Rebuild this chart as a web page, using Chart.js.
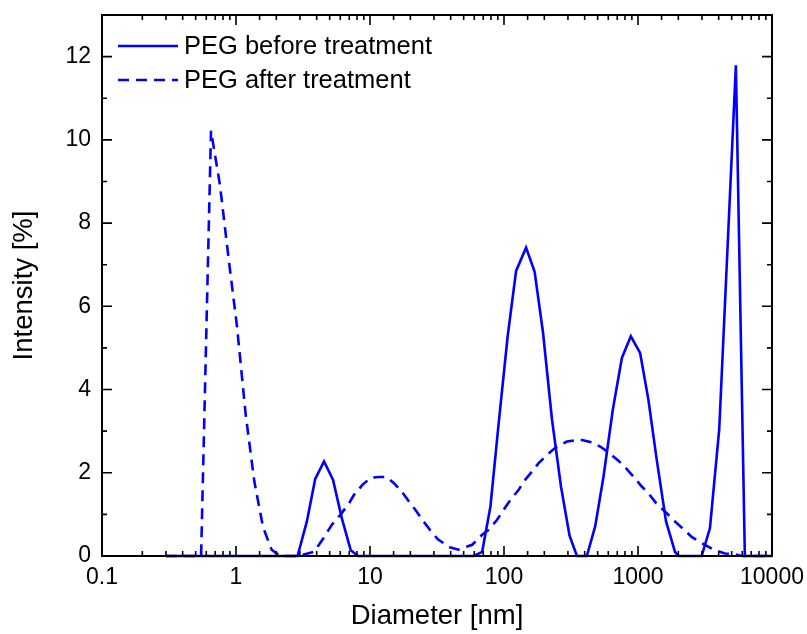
<!DOCTYPE html>
<html>
<head>
<meta charset="utf-8">
<script src="https://cdn.jsdelivr.net/npm/chart.js@4.4.0/dist/chart.umd.min.js"></script>
<style>
  html, body { margin: 0; padding: 0; background: #fff; }
  #wrap { width: 807px; height: 634px; position: relative; }
</style>
</head>
<body>
<div id="wrap"><canvas id="dlsChart"></canvas></div>
<script>
// size distributions: diameter [nm], intensity [%]
const beforeDiameter = [0.3, 2.88, 3.38, 3.90, 4.54, 5.30, 6.16, 7.18, 8.14, 59.5, 68.7, 79.2, 91.3, 106.5,
  123.1, 146.1, 169.3, 195.5, 228.1, 266.2, 308.5, 350, 415, 479, 553, 649, 758, 884, 1037, 1195, 1380,
  1619, 1889, 2000, 2985, 3443, 4037, 5376, 6273, 10000];
const beforeIntensity = [0, 0, 0.83, 1.85, 2.27, 1.83, 0.91, 0.14, 0, 0, 0.1, 1.19, 3.2, 5.28,
  6.85, 7.41, 6.83, 5.37, 3.28, 1.67, 0.49, 0, 0, 0.71, 1.91, 3.52, 4.76, 5.28, 4.88, 3.76, 2.31,
  0.83, 0.1, 0, 0, 0.67, 3.04, 11.79, 0, 0];

const afterDiameter = [0.3, 0.549, 0.651, 0.760, 0.876, 1.017, 1.181, 1.369, 1.589, 1.845, 2.137, 2.94,
  3.32, 3.81, 4.44, 5.19, 6.05, 6.98, 7.60, 8.78, 10.12, 11.61, 13.32, 15.09, 17.43, 19.52, 22.27, 24.56,
  27.98, 32.09, 39.41, 45.77, 52.5, 57.9, 68.7, 76.9, 88.8, 99.5, 111.6, 128.7, 140.2, 161.9, 181.3,
  209.4, 241.3, 295.1, 366.2, 452.9, 522.2, 602.0, 714.6, 825.1, 924.4, 1067, 1195, 1380, 1639, 1889,
  2178, 2515, 2985, 3642, 4452, 5133, 5957, 10000];
const afterIntensity = [0, 0, 10.22, 8.9, 7.21, 5.52, 3.4, 1.8, 0.7, 0.15, 0, 0,
  0.05, 0.1, 0.4, 0.75, 1.0, 1.27, 1.47, 1.71, 1.88, 1.9, 1.9, 1.75, 1.53, 1.31, 1.07, 0.87,
  0.63, 0.4, 0.21, 0.15, 0.22, 0.27, 0.51, 0.63, 0.87, 1.11, 1.35, 1.59, 1.79, 2.03, 2.23,
  2.43, 2.6, 2.75, 2.8, 2.73, 2.63, 2.49, 2.29, 2.09, 1.91, 1.67, 1.51, 1.25, 1.03, 0.83,
  0.65, 0.46, 0.31, 0.16, 0.06, 0.05, 0, 0];

const seriesNames = ['PEG before treatment', 'PEG after treatment'];
const xTickLabels = ['0.1', '1', '10', '100', '1000', '10000'];
const xMin = 0.1, xMax = 10000;
const yMin = 0, yMax = 13, yStep = 2;

const FONT = '"Liberation Sans", Arial, sans-serif';
const BLUE = '#0000ff';

function toPoints(xs, ys) {
    return xs.map((x, i) => ({ x: x, y: ys[i] }));
}

function isDecade(v) {
    const l = Math.log10(v);
    return Math.abs(l - Math.round(l)) < 1e-9;
}

// inward ticks on all four sides, frame and the legend inside the plot
const frameTicks = {
    id: 'frameTicks',
    afterDatasetsDraw(chart) {
        const { ctx, chartArea: a, scales: { x, y } } = chart;
        ctx.save();
        ctx.strokeStyle = '#000';
        ctx.lineWidth = 1.6;
        ctx.beginPath();
        x.ticks.forEach(t => {
            if (t.value <= xMin || t.value >= xMax) return;
            const len = isDecade(t.value) ? 10 : 5;
            const px = x.getPixelForValue(t.value);
            ctx.moveTo(px, a.bottom); ctx.lineTo(px, a.bottom - len);
            ctx.moveTo(px, a.top); ctx.lineTo(px, a.top + len);
        });
        y.ticks.forEach(t => {
            const vals = [[t.value, 10], [t.value + yStep / 2, 5]];
            vals.forEach(([v, len]) => {
                if (v <= yMin || v >= yMax) return;
                const py = y.getPixelForValue(v);
                ctx.moveTo(a.left, py); ctx.lineTo(a.left + len, py);
                ctx.moveTo(a.right, py); ctx.lineTo(a.right - len, py);
            });
        });
        ctx.stroke();

        ctx.lineWidth = 2;
        ctx.strokeRect(a.left, a.top, a.right - a.left, a.bottom - a.top);

        // legend
        ctx.font = '25.5px ' + FONT;
        ctx.fillStyle = '#000';
        ctx.textBaseline = 'middle';
        chart.data.datasets.forEach((ds, i) => {
            const ly = 46 + i * 34;
            ctx.beginPath();
            ctx.strokeStyle = ds.borderColor;
            ctx.lineWidth = ds.borderWidth;
            ctx.setLineDash(ds.borderDash || []);
            ctx.moveTo(118, ly); ctx.lineTo(178, ly);
            ctx.stroke();
            ctx.setLineDash([]);
            ctx.fillText(ds.label, 184, ly + 1);
        });
        ctx.restore();
    }
};

const dls_ctx = document.getElementById('dlsChart').getContext('2d');
const dlsChart = new Chart(dls_ctx, {
    type: 'line',
    data: {
        datasets: [
        {
            label: seriesNames[0],
            data: toPoints(beforeDiameter, beforeIntensity),
            borderColor: BLUE,
            borderWidth: 2.6,
            pointRadius: 0,
            tension: 0,
            clip: false
        },
        {
            label: seriesNames[1],
            data: toPoints(afterDiameter, afterIntensity),
            borderColor: BLUE,
            borderWidth: 2.6,
            borderDash: [11, 7],
            pointRadius: 0,
            tension: 0,
            clip: false
        },
        ],
    },
    options: {
        responsive: true,
        maintainAspectRatio: false,
        animation: false,
        layout: { padding: { left: 0, top: 15, right: 35, bottom: 0 } },
        plugins: {
            legend: { display: false },
            tooltip: { enabled: false }
        },
        scales: {
            x: {
                type: 'logarithmic',
                min: xMin,
                max: xMax,
                afterFit(s) { s.height = 78; s.paddingLeft = 0; s.paddingRight = 0; },
                grid: { display: false, drawTicks: false },
                border: { display: false },
                ticks: {
                    autoSkip: false,
                    maxRotation: 0,
                    padding: 8,
                    color: '#000',
                    font: { family: FONT, size: 23 },
                    callback: (v) => isDecade(v) ? xTickLabels[Math.round(Math.log10(v)) + 1] : ''
                },
                title: {
                    display: true,
                    text: 'Diameter [nm]',
                    color: '#000',
                    font: { family: FONT, size: 27.5 },
                    padding: { top: 0, bottom: 1 }
                }
            },
            y: {
                min: yMin,
                max: yMax,
                afterFit(s) { s.width = 102; s.paddingTop = 0; s.paddingBottom = 0; },
                grid: { display: false, drawTicks: false },
                border: { display: false },
                ticks: {
                    stepSize: yStep,
                    includeBounds: false,
                    padding: 11,
                    color: '#000',
                    font: { family: FONT, size: 23 }
                },
                title: {
                    display: true,
                    text: 'Intensity [%]',
                    color: '#000',
                    font: { family: FONT, size: 27.5 },
                    padding: { top: 8, bottom: 0 }
                }
            },
        }
    },
    plugins: [frameTicks]
});
</script>
</body>
</html>
